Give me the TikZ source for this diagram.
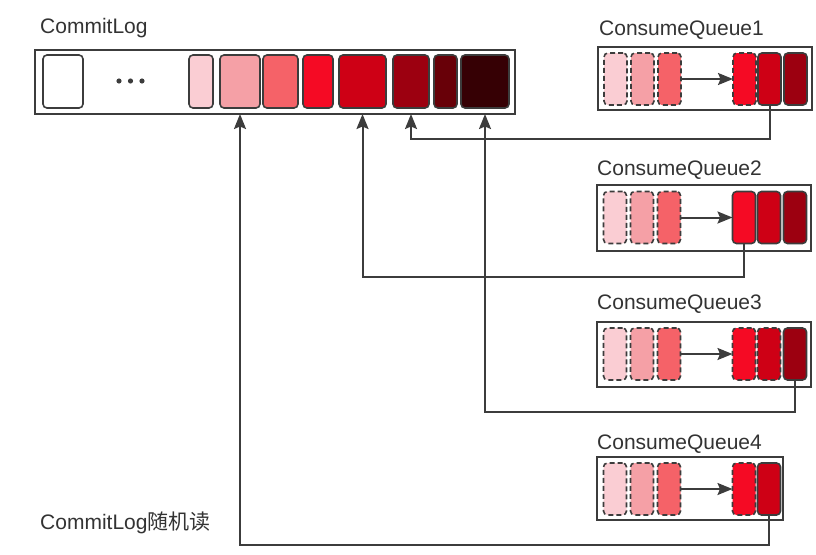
\documentclass[tikz,border=0pt]{standalone}
\usepackage{fontspec}
\setmainfont{Liberation Sans}
\newfontfamily\cjk{Noto Sans CJK SC}
\usetikzlibrary{arrows.meta,calc}
\definecolor{edge}{HTML}{3C3C3C}
\definecolor{txt}{HTML}{333333}
\definecolor{pk1}{HTML}{FACDD3}
\definecolor{pk2}{HTML}{F5A0A6}
\definecolor{pk3}{HTML}{F56268}
\definecolor{rd1}{HTML}{F50A24}
\definecolor{rd2}{HTML}{CE0015}
\definecolor{rd3}{HTML}{9C0010}
\definecolor{rd4}{HTML}{680008}
\definecolor{rd5}{HTML}{360004}

\begin{document}
\begin{tikzpicture}[x=1pt, y=-1pt,
		box/.style={draw=edge, line width=2pt, inner sep=0pt, outer sep=0pt},
		cell/.style={draw=edge, line width=1.6pt, rounded corners=4pt, inner sep=0pt, outer sep=0pt, minimum height=53pt},
		qcell/.style={cell, minimum width=23pt, minimum height=52pt},
		used/.style={dash pattern=on 5pt off 3pt},
		flow/.style={draw=edge, line width=2pt, -{Stealth[length=15pt,width=12pt,inset=2.5pt]}},
		title/.style={anchor=base west, inner sep=0pt, text=txt, font=\fontsize{21}{25}\selectfont}]
			%%%%% START %%%%%
			\useasboundingbox (0,0) rectangle (816,554);
			
			% commit log
			\node[title] (logname) at (40,33) {CommitLog};
			\node[box, minimum width=480pt, minimum height=64pt] (log) at (275,82) {};
			\node[cell, minimum width=40pt, fill=white] (b0) at (63,81.5) {};
			\foreach \x in {119,130.5,142} \fill[edge] (\x,81) circle (2.6pt);
			\node[cell, minimum width=24pt, fill=pk1] (b1) at (201,81.5) {};
			\node[cell, minimum width=40pt, fill=pk2] (b2) at (240,81.5) {};
			\node[cell, minimum width=35pt, fill=pk3] (b3) at (280.5,81.5) {};
			\node[cell, minimum width=30pt, fill=rd1] (b4) at (318,81.5) {};
			\node[cell, minimum width=47pt, fill=rd2] (b5) at (362.5,81.5) {};
			\node[cell, minimum width=36pt, fill=rd3] (b6) at (411,81.5) {};
			\node[cell, minimum width=23pt, fill=rd4] (b7) at (445.5,81.5) {};
			\node[cell, minimum width=48pt, fill=rd5] (b8) at (485,81.5) {};
			
			% queue 1
			\node[title] (q1name) at (599,35) {ConsumeQueue1};
			\node[box, minimum width=214pt, minimum height=63pt] (q1) at (705,78.5) {};
			\node[qcell, used, fill=pk1] (q1d1) at (615.5,79) {};
			\node[qcell, used, fill=pk2] (q1d2) at (642.5,79) {};
			\node[qcell, used, fill=pk3] (q1d3) at (669.5,79) {};
			\node[qcell, used, fill=rd1] (q1r1) at (744.5,79) {};
			\node[qcell, fill=rd2] (q1r2) at (769.5,79) {};
			\node[qcell, fill=rd3] (q1r3) at (795.5,79) {};
			\draw[flow] (q1d3) -- (q1r1);
			
			% queue 2
			\node[title] (q2name) at (597,175) {ConsumeQueue2};
			\node[box, minimum width=214pt, minimum height=66pt] (q2) at (704,218) {};
			\node[qcell, used, fill=pk1] (q2d1) at (615,217.5) {};
			\node[qcell, used, fill=pk2] (q2d2) at (642,217.5) {};
			\node[qcell, used, fill=pk3] (q2d3) at (669,217.5) {};
			\node[qcell, fill=rd1] (q2r1) at (744,217.5) {};
			\node[qcell, fill=rd2] (q2r2) at (769,217.5) {};
			\node[qcell, fill=rd3] (q2r3) at (795,217.5) {};
			\draw[flow] (q2d3) -- (q2r1);
			
			% queue 3
			\node[title] (q3name) at (597,309) {ConsumeQueue3};
			\node[box, minimum width=214pt, minimum height=65pt] (q3) at (704,354.5) {};
			\node[qcell, used, fill=pk1] (q3d1) at (615,354) {};
			\node[qcell, used, fill=pk2] (q3d2) at (642,354) {};
			\node[qcell, used, fill=pk3] (q3d3) at (669,354) {};
			\node[qcell, used, fill=rd1] (q3r1) at (744,354) {};
			\node[qcell, used, fill=rd2] (q3r2) at (769,354) {};
			\node[qcell, fill=rd3] (q3r3) at (795,354) {};
			\draw[flow] (q3d3) -- (q3r1);
			
			% queue 4
			\node[title] (q4name) at (597,449) {ConsumeQueue4};
			\node[box, minimum width=186pt, minimum height=63pt] (q4) at (690,488.5) {};
			\node[qcell, used, fill=pk1] (q4d1) at (615,489) {};
			\node[qcell, used, fill=pk2] (q4d2) at (642,489) {};
			\node[qcell, used, fill=pk3] (q4d3) at (669,489) {};
			\node[qcell, used, fill=rd1] (q4r1) at (744,489) {};
			\node[qcell, fill=rd2] (q4r2) at (769,489) {};
			\draw[flow] (q4d3) -- (q4r1);
			
			% reads back into the log
			\draw[flow] (q1r2.south) -- ++(0,34) -| (b6 |- log.south);
			\draw[flow] (q2r1.south) -- ++(0,33.5) -| (b5 |- log.south);
			\draw[flow] (q3r3.south) -- ++(0,32) -| (b8 |- log.south);
			\draw[flow] (q4r2.south) -- ++(0,30) -| (b2 |- log.south);
			
			\node[title] (readname) at (40,529) {CommitLog{\cjk 随机读}};
			%%%%% END %%%%%
		\end{tikzpicture}
\end{document}
